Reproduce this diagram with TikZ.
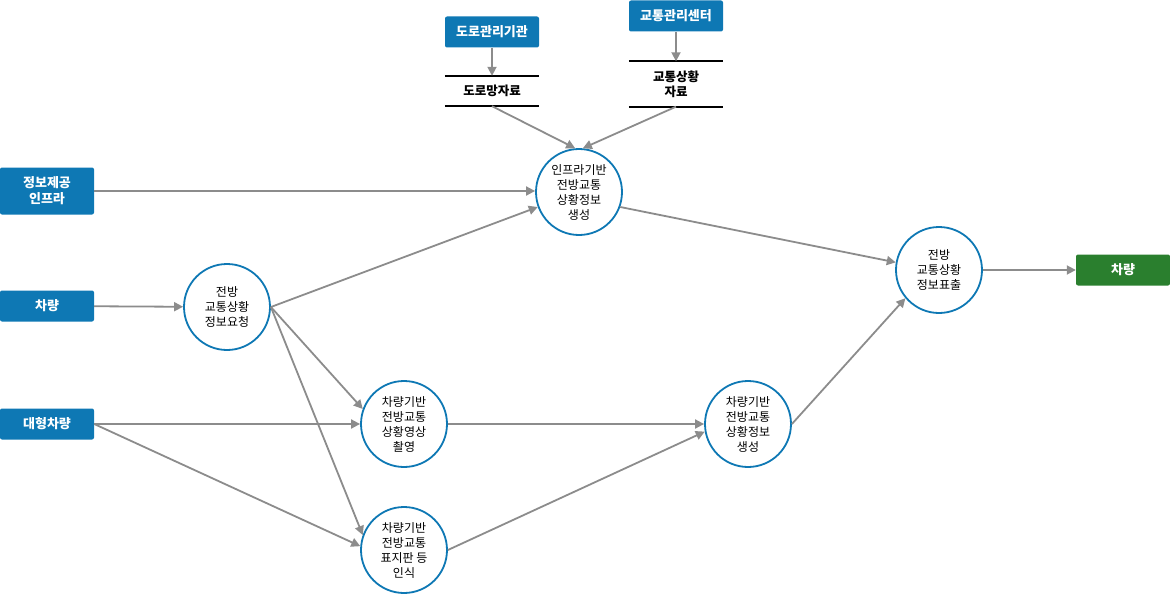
\documentclass[tikz,border=0pt]{standalone}
\usepackage{fontspec}
\setmainfont{Noto Sans CJK KR}
\usetikzlibrary{arrows.meta}
\definecolor{bl}{HTML}{0E78B4}
\definecolor{gr}{HTML}{2A7F2E}
\definecolor{ln}{HTML}{8C8C8C}
\begin{document}
\begin{tikzpicture}[x=1pt,y=-1pt,
 ext/.style={fill=bl,text=white,font=\bfseries\fontsize{13}{16}\selectfont,minimum width=94pt,minimum height=31pt,inner sep=0pt,align=center,rounded corners=2pt},
 proc/.style={circle,draw=bl,line width=1.8pt,minimum size=86pt,inner sep=0pt,align=center,font=\fontsize{12}{15}\selectfont},
 ds/.style={minimum width=94pt,inner sep=0pt,align=center,font=\bfseries\fontsize{12.5}{15}\selectfont},
 arr/.style={draw=ln,line width=1.8pt,-{Triangle[length=9pt,width=9pt]}}]
\useasboundingbox (0,0) rectangle (1170,594);
\node[ext] (rma) at (492,32) {도로관리기관};
\node[ext] (tmc) at (676,16) {교통관리센터};
\node[ext,minimum height=47pt] (inf) at (47,191) {정보제공\\인프라};
\node[ext] (car) at (47,306) {차량};
\node[ext] (big) at (47,424) {대형차량};
\node[ext,fill=gr] (out) at (1123,270) {차량};
\node[ds,minimum height=30pt] (rd) at (492,91) {도로망자료};
\draw[line width=1.8pt] (rd.north west)--(rd.north east) (rd.south west)--(rd.south east);
\node[ds,minimum height=45pt] (td) at (676,84) {교통상황\\자료};
\draw[line width=1.8pt] (td.north west)--(td.north east) (td.south west)--(td.south east);
\node[proc] (c1) at (579,192) {인프라기반\\전방교통\\상황정보\\생성};
\node[proc] (c2) at (227,307) {전방\\교통상황\\정보요청};
\node[proc] (c3) at (404,424) {차량기반\\전방교통\\상황영상\\촬영};
\node[proc] (c4) at (404,550) {차량기반\\전방교통\\표지판 등\\인식};
\node[proc] (c5) at (748,424) {차량기반\\전방교통\\상황정보\\생성};
\node[proc] (c6) at (939,270) {전방\\교통상황\\정보표출};
\draw[arr] (rma)--(rd.north);
\draw[arr] (tmc)--(td.north);
\draw[arr] (rd.south)--(c1.95);
\draw[arr] (td.south)--(c1.85);
\draw[arr] (inf.east)--(c1.west|-inf.east);
\draw[arr] (car)--(c2);
\draw[arr] (c2.east)--(c1.200);
\draw[arr] (c2.east)--(c3.160);
\draw[arr] (c2.east)--(c4.160);
\draw[arr] (big.east)--(c3.west);
\draw[arr] (big.east)--(c4.175);
\draw[arr] (c3)--(c5);
\draw[arr] (c4.east)--(c5.190);
\draw[arr] (c5.east)--(c6.220);
\draw[arr] (c1.-20)--(c6.170);
\draw[arr] (c6)--(out);
\end{tikzpicture}
\end{document}
